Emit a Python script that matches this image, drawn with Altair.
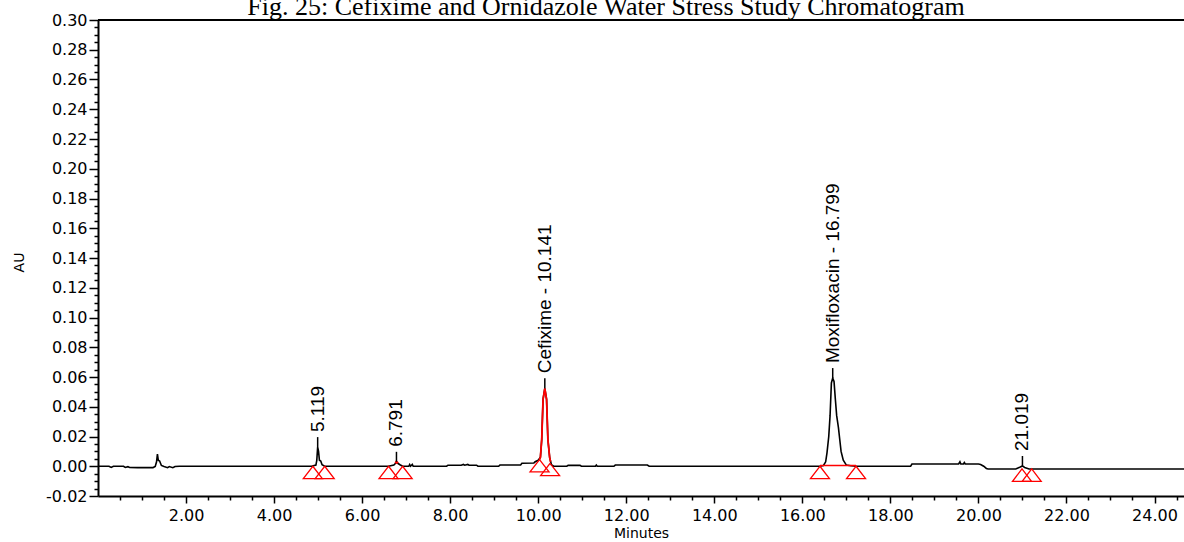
import altair as alt
import pandas as pd

TITLE = "Fig. 25: Cefixime and Ornidazole Water Stress Study Chromatogram"

# chromatogram trace (minutes, AU)
trace_t = [0.00, 0.25, 0.30, 0.35, 0.58, 0.62, 0.68, 0.72, 0.90, 1.10, 1.25, 1.30, 1.33, 1.35, 1.37,
           1.40, 1.44, 1.50, 1.58, 1.62, 1.70, 1.75, 1.85,
           4.85, 4.95, 4.97, 4.99, 5.01, 5.03, 5.06, 5.09, 5.15,
           6.60, 6.72, 6.76, 6.78, 6.81, 6.86, 6.92,
           7.06, 7.08, 7.10, 7.14, 7.16,
           7.92, 7.95, 8.25, 8.30, 8.33, 8.40, 8.43, 8.60, 8.63,
           9.10, 9.13, 9.60, 9.63, 9.90, 9.93, 10.00, 10.05,
           10.08, 10.11, 10.15, 10.19, 10.22, 10.26, 10.30, 10.35,
           10.65, 10.68, 10.95, 10.98, 11.30, 11.32, 11.34, 11.72, 11.75, 12.48, 12.52,
           16.40, 16.48, 16.53, 16.56, 16.60, 16.63, 16.66, 16.69, 16.72, 16.75, 16.78, 16.82,
           16.85, 16.88, 16.93, 17.00, 17.10, 17.22,
           18.46, 18.49, 19.55, 19.58, 19.60, 19.66, 19.68, 19.70, 20.00, 20.05, 20.12, 20.18, 20.22,
           20.85, 20.95, 21.00, 21.05, 21.15, 24.67]
trace_v = [0.0000, 0.0000, -0.0008, 0.0000, 0.0000, -0.0008, -0.0003, -0.0008, -0.0009, -0.0008, -0.0009,
           -0.0002, 0.0030, 0.0082, 0.0040,
           0.0035, 0.0005, -0.0002, -0.0010, -0.0002, -0.0010, -0.0002, 0.0000,
           0.0000, 0.0008, 0.0040, 0.0129, 0.0100, 0.0040, 0.0035, 0.0010, 0.0000,
           0.0000, 0.0008, 0.0020, 0.0030, 0.0020, 0.0010, 0.0000,
           0.0000, 0.0012, 0.0000, 0.0012, 0.0000,
           0.0000, 0.0007, 0.0007, 0.0012, 0.0007, 0.0012, 0.0007, 0.0007, 0.0000,
           0.0000, 0.0008, 0.0008, 0.0020, 0.0022, 0.0030, 0.0040, 0.0060,
           0.0180, 0.0450, 0.0524, 0.0450, 0.0180, 0.0060, 0.0010, 0.0000,
           0.0000, 0.0006, 0.0006, 0.0000, 0.0000, 0.0008, 0.0000, 0.0000, 0.0008, 0.0008, 0.0000,
           0.0000, 0.0005, 0.0030, 0.0090, 0.0200, 0.0340, 0.0560, 0.0593, 0.0570, 0.0450, 0.0340, 0.0260,
           0.0180, 0.0100, 0.0040, 0.0008, 0.0003, 0.0000,
           0.0000, 0.0015, 0.0015, 0.0030, 0.0015, 0.0015, 0.0025, 0.0015, 0.0015, 0.0012, 0.0000, -0.0015, -0.0018,
           -0.0018, -0.0005, 0.0002, -0.0008, -0.0018, -0.0018]

# red (integrated) parts of the trace
cef_t = [10.03, 10.05, 10.08, 10.11, 10.15, 10.19, 10.22, 10.26, 10.28]
cef_v = [0.0045, 0.0060, 0.0180, 0.0450, 0.0524, 0.0450, 0.0180, 0.0060, 0.0030]
p679_t = [6.76, 6.78, 6.81]
p679_v = [0.0020, 0.0030, 0.0020]
moxbase_t = [16.40, 17.22]
moxbase_v = [0.0005, 0.0005]

# peak start / end markers
tri_t = [4.88, 5.15, 6.60, 6.92, 10.03, 10.27, 16.40, 17.22, 20.99, 21.21]
tri_v = [0.0000, 0.0000, 0.0000, 0.0000, 0.0045, 0.0020, 0.0000, 0.0000, -0.0018, -0.0018]

# peak labels
lab_t = [4.99, 6.78, 10.15, 16.69, 21.00]
lab_apex = [0.0129, 0.0030, 0.0524, 0.0593, 0.0002]
lab_top = [0.0196, 0.0097, 0.0591, 0.0660, 0.0069]
lab_text = ["5.119", "6.791", "Cefixime - 10.141", "Moxifloxacin - 16.799", "21.019"]

x_ticks = [i * 0.5 for i in range(1, 50)]
y_ticks = [round(-0.02 + i * 0.005, 3) for i in range(0, 65)]

W, H = 1086, 476

xs = alt.Scale(domain=[0, 24.67], nice=False, zero=False)
ys = alt.Scale(domain=[-0.02, 0.30], nice=False, zero=False)

xaxis = alt.Axis(
    title="Minutes", values=x_ticks, grid=False,
    labelExpr="(datum.value % 2 === 0 && datum.value > 0) ? format(datum.value, '.2f') : ''",
    tickSize={"condition": {"test": "datum.value % 2 === 0", "value": 7}, "value": 4},
    tickColor="black", tickWidth=1.5, domainColor="black", domainWidth=2,
    labelFont="DejaVu Sans", labelFontSize=16, labelColor="black", labelPadding=4,
    labelOverlap=False, labelFlush=False,
    titleFont="DejaVu Sans", titleFontSize=14, titleFontWeight="normal", titleColor="black",
    titleY=37, titleBaseline="middle",
)
yaxis = alt.Axis(
    title="AU", values=y_ticks, grid=False,
    labelExpr="(round(datum.value * 1000) % 20 === 0) ? replace(format(datum.value, '.2f'), '\u2212', '-') : ''",
    tickSize={"condition": {"test": "round(datum.value * 1000) % 20 === 0", "value": 9}, "value": 4},
    tickColor="black", tickWidth=1.5, domainColor="black", domainWidth=2,
    labelFont="DejaVu Sans", labelFontSize=16, labelColor="black", labelPadding=2,
    labelOverlap=False, labelFlush=False,
    titleFont="DejaVu Sans", titleFontSize=14, titleFontWeight="normal", titleColor="black",
    titleX=-79, titleY=242, titleAngle=270, titleAlign="center", titleBaseline="middle",
)

X = alt.X("t:Q", scale=xs, axis=xaxis)
Y = alt.Y("v:Q", scale=ys, axis=yaxis)

trace_df = pd.DataFrame({"t": trace_t, "v": trace_v})
cef_df = pd.DataFrame({"t": cef_t, "v": cef_v})
p679_df = pd.DataFrame({"t": p679_t, "v": p679_v})
mox_df = pd.DataFrame({"t": moxbase_t, "v": moxbase_v})
tri_df = pd.DataFrame({"t": tri_t, "v": tri_v})
lab_df = pd.DataFrame({"t": lab_t, "v": lab_apex, "v2": lab_top, "label": lab_text})
top_df = pd.DataFrame({"t": lab_t, "v": lab_top, "label": lab_text})
title_df = pd.DataFrame({"title": [TITLE]})

trace = alt.Chart(trace_df).mark_line(color="black", strokeWidth=1.6, interpolate="linear").encode(x=X, y=Y, order="t:Q")
cef = alt.Chart(cef_df).mark_line(color="#ff0000", strokeWidth=1.8).encode(x=X, y=Y)
p679 = alt.Chart(p679_df).mark_line(color="#ff0000", strokeWidth=2.5).encode(x=X, y=Y)
mox = alt.Chart(mox_df).mark_line(color="#ff0000", strokeWidth=1.5).encode(x=X, y=Y)
leaders = alt.Chart(lab_df).mark_rule(color="black", strokeWidth=1.5).encode(x=X, y=Y, y2="v2:Q")
tris = alt.Chart(tri_df).mark_point(
    shape="M0,0L1,1.3L-1,1.3Z", size=361, filled=False, color="#ff0000", strokeWidth=1.3, opacity=1
).encode(x=X, y=Y)
labels = alt.Chart(top_df).mark_text(
    angle=270, align="left", baseline="middle", dx=5, font="Liberation Sans", fontSize=19, color="black"
).encode(x=X, y=Y, text="label:N")
title = alt.Chart(title_df).mark_text(
    font="Liberation Serif", fontSize=26, align="center", baseline="alphabetic", color="black"
).encode(x=alt.value(508), y=alt.value(-5), text="title:N")
topline = alt.Chart(title_df).mark_rule(color="black", strokeWidth=2).encode(
    x=alt.value(0), x2=alt.value(W), y=alt.value(0)
)

chart = alt.layer(trace, cef, p679, mox, leaders, tris, labels, title, topline).properties(
    width=W, height=H,
    autosize=alt.AutoSizeParams(type="none"),
    padding={"left": 98, "top": 20, "right": 0, "bottom": 46},
    background="white",
).configure_view(stroke=None)

chart.save("out.html", embed_options={"renderer": "svg", "actions": False})
